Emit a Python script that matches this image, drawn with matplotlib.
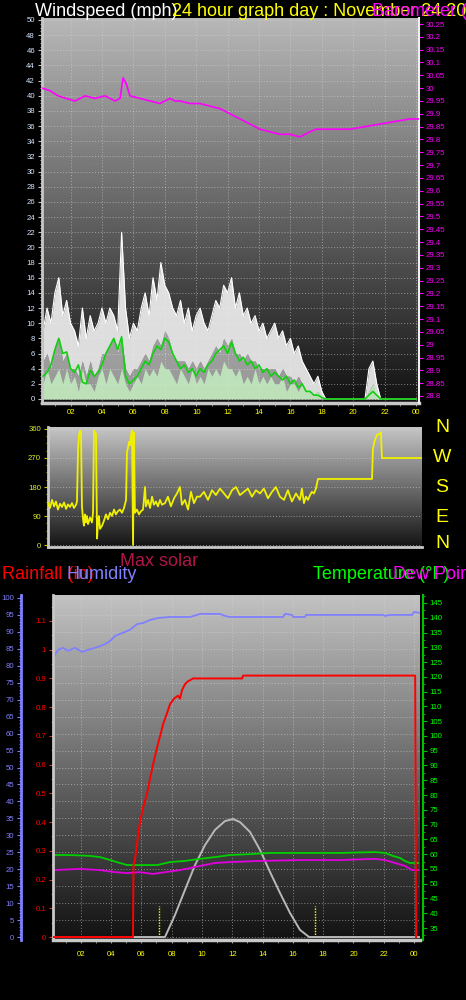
import numpy as np
import matplotlib
matplotlib.use("Agg")
import matplotlib.pyplot as plt
from matplotlib.ticker import MultipleLocator, FixedLocator, FuncFormatter

plt.rcParams['font.family'] = ['Liberation Sans', 'DejaVu Sans']

# ---------------- data ----------------
# top panel: wind (0.25 h steps from 0.25 to 24.0)
wind_t = np.arange(1, 97) * 0.25
wind_gust = [9, 12, 10, 14, 16, 11, 13, 10, 9, 7, 12, 8, 11, 9, 10, 12,
             10, 12, 11, 9, 22, 12, 8, 10, 9, 12, 14, 11, 16, 13, 18, 15,
             14, 12, 11, 13, 10, 12, 9, 11, 12, 10, 9, 11, 13, 12, 15, 14,
             16, 12, 14, 11, 12, 10, 11, 9, 10, 8, 9, 10, 8, 9, 7, 8,
             6, 7, 5, 4, 3, 2, 3, 1, 0, 0, 0, 0, 0, 0, 0, 0,
             0, 0, 0, 4, 5, 2, 0, 0, 0, 0, 0, 0, 0, 0, 0, 0]
wind_lull = [5, 6, 4, 7, 8, 5, 6, 4, 4, 3, 5, 3, 5, 3, 4, 6,
             6, 7, 8, 6, 8, 4, 3, 4, 4, 5, 6, 5, 7, 8, 7, 9,
             8, 6, 5, 5, 5, 4, 5, 4, 5, 4, 5, 6, 7, 6, 8, 7,
             8, 6, 6, 5, 6, 5, 5, 4, 4, 4, 4, 4, 3, 4, 3, 3,
             2, 3, 2, 1, 1, 0.5, 1, 0, 0, 0, 0, 0, 0, 0, 0, 0,
             0, 0, 0, 1, 2, 0, 0, 0, 0, 0, 0, 0, 0, 0, 0, 0]
wind_speed = [2, 4, 2, 3, 4, 2, 4, 2, 3, 1, 4, 2, 2, 1, 3, 4,
              2, 4, 3, 2, 4, 2, 1, 2, 3, 2, 4, 3, 4, 3, 5, 4,
              4, 3, 2, 4, 3, 2, 4, 2, 3, 2, 4, 3, 4, 3, 5, 4,
              4, 3, 4, 2, 3, 2, 4, 2, 3, 2, 3, 2, 2, 3, 1, 2,
              2, 1, 2, 1, 1, 0.5, 1, 0, 0, 0, 0, 0, 0, 0, 0, 0,
              0, 0, 0, 1, 2, 0.5, 0, 0, 0, 0, 0, 0, 0, 0, 0, 0]
wind_avg = [3, 3.5, 4.5, 6.5, 8, 6, 6.2, 4, 3.5, 4.5, 2.2, 2, 3.8, 3, 3.5, 4.5,
            6, 7, 8, 6.5, 8.2, 3, 2, 2.5, 3, 4, 5, 4.5, 6, 7, 6.5, 8,
            7.5, 6, 5, 4, 4.5, 3.5, 4, 3, 4, 3.5, 4.5, 5, 6, 6.5, 7, 6,
            7.5, 6, 5, 5.5, 4.5, 5, 4, 4.5, 3.5, 4, 3, 3.5, 3, 2.5, 3, 2,
            2.5, 1.5, 2, 1, 1, 0.5, 0.5, 0.2, 0, 0, 0, 0, 0, 0, 0, 0,
            0, 0, 0, 0.5, 1, 0.5, 0, 0, 0, 0, 0, 0, 0, 0, 0, 0]

press_t = [0.18, 0.69, 1.20, 1.71, 2.28, 2.92, 3.55, 4.19, 4.83, 5.15, 5.34, 5.53,
           5.78, 6.42, 7.06, 7.69, 8.33, 8.65, 8.97, 9.61, 10.24, 10.88, 11.52,
           12.15, 12.79, 13.43, 14.06, 14.70, 15.34, 15.97, 16.61, 17.25, 17.63,
           18.01, 18.84, 19.80, 20.75, 21.71, 22.66, 23.62, 24.19]
press_v = [30.00, 29.99, 29.97, 29.96, 29.95, 29.97, 29.96, 29.97, 29.95, 29.96,
           30.04, 30.02, 29.97, 29.96, 29.95, 29.94, 29.96, 29.95, 29.95, 29.94,
           29.94, 29.93, 29.92, 29.90, 29.88, 29.86, 29.84, 29.83, 29.82, 29.82,
           29.81, 29.83, 29.84, 29.84, 29.84, 29.84, 29.85, 29.86, 29.87, 29.88, 29.88]

# middle panel: wind direction
dir_t = [0.18, 0.31, 0.44, 0.57, 0.69, 0.82, 0.95, 1.08, 1.21, 1.34, 1.46, 1.59, 1.72,
         1.85, 1.98, 2.04, 2.11, 2.17, 2.23, 2.30, 2.36, 2.43, 2.49, 2.55, 2.62, 2.68,
         2.75, 2.88, 3.00, 3.07, 3.13, 3.20, 3.26, 3.33, 3.39, 3.45, 3.52, 3.65, 3.77,
         3.90, 4.03, 4.16, 4.29, 4.42, 4.54, 4.67, 4.80, 4.93, 5.06, 5.19, 5.25, 5.31,
         5.38, 5.44, 5.51, 5.57, 5.64, 5.70, 5.76, 5.89, 6.02, 6.15, 6.28, 6.41, 6.47,
         6.60, 6.73, 6.86, 6.98, 7.11, 7.24, 7.37, 7.50, 7.69, 7.88, 8.07, 8.27, 8.46,
         8.65, 8.78, 8.97, 9.17, 9.36, 9.55, 9.74, 9.94, 10.19, 10.45, 10.71, 10.96,
         11.22, 11.48, 11.73, 11.99, 12.25, 12.50, 12.76, 13.02, 13.27, 13.53, 13.79,
         14.04, 14.30, 14.56, 14.81, 15.07, 15.33, 15.58, 15.84, 16.10, 16.35, 16.48,
         16.61, 16.74, 16.87, 17.00, 17.12, 17.25, 17.38, 17.51, 20.98, 21.04, 21.17,
         21.30, 21.49, 21.55, 21.62, 24.19]
dir_v = [130, 115, 140, 120, 135, 110, 128, 118, 132, 112, 126, 118, 130,
         115, 125, 135, 300, 340, 355, 350, 120, 80, 60, 95, 70, 90,
         65, 85, 70, 100, 355, 350, 345, 20, 70, 90, 50, 60, 75,
         95, 80, 100, 90, 110, 95, 105, 110, 100, 115, 140, 290, 300,
         320, 310, 340, 355, 0, 350, 100, 110, 95, 105, 110, 180, 120,
         140, 115, 150, 125, 135, 120, 140, 125, 130, 150, 120, 145, 160,
         180, 125, 140, 110, 165, 130, 150, 150, 165, 140, 170, 155,
         175, 160, 145, 170, 180, 155, 165, 175, 150, 170, 160,
         175, 145, 165, 180, 150, 140, 170, 135, 160, 140, 175,
         130, 150, 140, 155, 165, 160, 175, 205, 205, 300, 326,
         342, 345, 350, 270, 270]

# bottom panel
hum_t = [0.17, 0.50, 0.83, 1.16, 1.62, 2.09, 2.48, 2.94, 3.27, 3.60, 3.94, 4.26, 4.59,
         4.92, 5.25, 5.72, 6.11, 6.57, 7.10, 7.89, 9.21, 9.68, 9.87, 11.19, 11.52, 11.85,
         13.83, 15.35, 15.48, 15.95, 16.02, 16.80, 16.87, 21.95, 22.08, 22.40, 23.87,
         24.00, 24.39]
hum_v = [82.3, 84.7, 85.3, 84.4, 85.3, 84.1, 84.7, 85.3, 85.8, 86.4, 87.3, 88.8, 89.4,
         90.0, 90.6, 92.3, 92.6, 93.5, 94.1, 94.4, 94.4, 95.0, 95.3, 95.3, 94.7, 94.4,
         94.4, 94.4, 95.3, 95.0, 94.4, 94.4, 95.0, 95.0, 94.7, 95.0, 95.0,
         95.9, 95.6]

rain_t = [0.17, 5.45, 5.48, 5.58, 5.72, 5.91, 6.11, 6.38, 6.57, 6.77, 7.04, 7.24, 7.43,
          7.70, 7.89, 8.16, 8.42, 8.55, 8.69, 8.88, 9.08, 9.41, 12.65, 12.72, 24.07, 24.13]
rain_v = [0, 0, 0.25, 0.27, 0.33, 0.40, 0.45, 0.50, 0.55, 0.60, 0.66, 0.70, 0.74,
          0.78, 0.81, 0.83, 0.84, 0.83, 0.86, 0.88, 0.89, 0.90, 0.90, 0.91, 0.91, 0.0]

temp_t = [0.17, 1.29, 2.61, 3.27, 3.94, 4.59, 5.06, 5.91, 7.04, 7.89, 8.88, 9.87, 10.86,
          11.85, 13.17, 14.49, 16.47, 19.12, 21.43, 22.08, 22.61, 23.07, 23.40, 23.73, 24.26]
temp_v = [59.7, 59.7, 59.4, 59.0, 58.0, 57.0, 56.3, 56.3, 56.3, 57.3, 57.7, 58.4, 59.0,
          59.7, 60.0, 60.4, 60.4, 60.4, 60.7, 60.4, 59.4, 58.7, 57.7, 57.0, 57.0]

dew_t = [0.17, 1.95, 3.27, 4.26, 5.06, 5.91, 6.77, 7.56, 8.55, 9.87, 10.86, 11.85, 13.83,
         16.47, 19.12, 21.43, 22.08, 22.74, 23.40, 23.87, 24.26]
dew_v = [54.6, 55.0, 54.6, 53.9, 53.6, 53.9, 53.3, 53.9, 54.6, 56.0, 57.0, 57.3, 57.7,
         58.0, 58.0, 58.4, 58.0, 57.0, 56.0, 54.6, 54.6]

solar_t = [0.17, 7.56, 8.22, 8.88, 9.54, 10.20, 10.86, 11.52, 12.05, 12.51, 13.17, 13.83,
           14.49, 15.15, 15.81, 16.47, 17.07, 24.39]
solar_v = [0, 0, 6.5, 13.9, 21.2, 27.1, 31.6, 34.2, 34.8, 33.9, 31.0, 25.7,
           19.2, 13.0, 7.1, 2.1, 0, 0]

sunrise, sunset = 7.17, 17.47

hour_ticks = [2, 4, 6, 8, 10, 12, 14, 16, 18, 20, 22, 24]
hour_labels = ['02', '04', '06', '08', '10', '12', '14', '16', '18', '20', '22', '00']

# ---------------- figure ----------------
W, H = 466, 1000
fig = plt.figure(figsize=(W / 100, H / 100), dpi=100, facecolor='black')


def box(l, t, r, b):
    return [l / W, 1 - b / H, (r - l) / W, (b - t) / H]


def gradient(ax, top, bottom):
    arr = np.linspace(top, bottom, 256).reshape(-1, 1)
    ax.imshow(arr, extent=[0, 1, 0, 1], transform=ax.transAxes, cmap='gray',
              vmin=0, vmax=1, aspect='auto', zorder=0, interpolation='bilinear')


def grid_style(ax, axis='both'):
    ax.grid(True, axis=axis, color='#d8d8d8', linestyle=(0, (1, 2)), linewidth=0.7, alpha=0.55)
    ax.set_axisbelow(True)


def strip(v, pos=None):
    return f'{v:.2f}'.rstrip('0').rstrip('.')


LS = 5.6
XL = (0.18, 24.19)

# ===== top panel =====
ax1 = fig.add_axes(box(42, 18, 419, 403))
ax1.set_facecolor('none')
ax1.set_xlim(*XL)
ax1.set_ylim(-0.53, 50.26)
gradient(ax1, 0.72, 0.07)
ax1.fill_between(wind_t, 0, wind_lull, color='#f0f0f0', alpha=0.6, lw=0, zorder=2)
ax1.fill_between(wind_t, wind_lull, wind_gust, color='#f2f2f2', alpha=0.9, lw=0, zorder=2)
ax1.plot(wind_t, wind_gust, color='#ffffff', lw=0.8, zorder=2)
ax1.fill_between(wind_t, 0, wind_speed, color='#c4eec0', alpha=0.85, lw=0, zorder=3)
ax1.plot(wind_t, wind_avg, color='#10d010', lw=1.2, zorder=4)
ax1.yaxis.set_major_locator(MultipleLocator(2))
ax1.yaxis.set_minor_locator(MultipleLocator(0.5))
ax1.xaxis.set_major_locator(FixedLocator(hour_ticks))
ax1.xaxis.set_minor_locator(MultipleLocator(1))
ax1.set_xticklabels(hour_labels)
ax1.tick_params(axis='y', which='major', colors='#c0c0c0', labelcolor='#d4e6ff', labelsize=LS, length=3, pad=2)
ax1.tick_params(axis='y', which='minor', colors='#c0c0c0', length=1.5)
ax1.tick_params(axis='x', which='both', colors='#a0a0a0', labelcolor='#ffff00', labelsize=LS, length=2, pad=2)
grid_style(ax1)
for s in ['top', 'right']:
    ax1.spines[s].set_visible(False)
ax1.spines['left'].set_color('#c8c8c8'); ax1.spines['left'].set_linewidth(2)
ax1.spines['bottom'].set_color('#c8c8c8'); ax1.spines['bottom'].set_linewidth(2.5)

ax1p = ax1.twinx()
ax1p.plot(press_t, press_v, color='#ff00ff', lw=1.2, zorder=3)
ax1p.yaxis.set_major_locator(MultipleLocator(0.05))
ax1p.yaxis.set_major_formatter(FuncFormatter(strip))
ax1p.set_ylim(28.7727, 30.2734)
ax1p.tick_params(axis='y', colors='#ff00ff', labelcolor='#ff00ff', labelsize=LS, length=3, pad=2)
for s in ['top', 'left', 'bottom']:
    ax1p.spines[s].set_visible(False)
ax1p.spines['right'].set_color('#f0f0f0'); ax1p.spines['right'].set_linewidth(1.5)

# ===== middle panel =====
ax2 = fig.add_axes(box(48, 427, 422, 547))
ax2.set_facecolor('none')
ax2.set_xlim(*XL)
ax2.set_ylim(-6.2, 366.2)
gradient(ax2, 0.78, 0.08)
ax2.plot(dir_t, dir_v, color='#f0f000', lw=1.3, zorder=3)
ax2.yaxis.set_major_locator(FixedLocator([0, 90, 180, 270, 360]))
ax2.yaxis.set_minor_locator(MultipleLocator(22.5))
ax2.tick_params(axis='y', which='major', colors='#c8c800', labelcolor='#d8f030', labelsize=LS, length=3, pad=2)
ax2.tick_params(axis='y', which='minor', colors='#c8c800', length=1.5)
ax2.set_xticks([])
grid_style(ax2, 'y')
for s in ['top', 'right']:
    ax2.spines[s].set_visible(False)
ax2.spines['left'].set_color('#c8c8c8'); ax2.spines['left'].set_linewidth(2)
ax2.spines['bottom'].set_color('#c8c8c8'); ax2.spines['bottom'].set_linewidth(2)

# ===== bottom panel =====
XB = (0.17, 24.39)
ax3 = fig.add_axes(box(53, 595, 420, 940))
ax3.set_facecolor('none')
ax3.set_xlim(*XB)
ax3.set_ylim(-0.88, 100.88)
gradient(ax3, 0.76, 0.07)
ax3.plot(hum_t, hum_v, color='#8080ff', lw=1.3, zorder=3)
ax3.yaxis.set_major_locator(MultipleLocator(5))
ax3.yaxis.set_minor_locator(MultipleLocator(1))
ax3.xaxis.set_major_locator(FixedLocator(hour_ticks))
ax3.xaxis.set_minor_locator(MultipleLocator(1))
ax3.set_xticklabels(hour_labels)
ax3.spines['left'].set_position(('outward', 23))
ax3.spines['left'].set_color('#8080ff'); ax3.spines['left'].set_linewidth(2)
ax3.tick_params(axis='y', which='major', colors='#8080ff', labelcolor='#8080ff', labelsize=LS, length=3, pad=2)
ax3.tick_params(axis='y', which='minor', colors='#8080ff', length=1.5)
ax3.tick_params(axis='x', which='both', colors='#a0a0a0', labelcolor='#ffff00', labelsize=LS, length=2, pad=6)
grid_style(ax3)
for s in ['top', 'right']:
    ax3.spines[s].set_visible(False)
ax3.spines['bottom'].set_color('#c8c8c8'); ax3.spines['bottom'].set_linewidth(2.5)
ax3.vlines([sunrise, sunset], -0.88, 9.1, colors='#ffff00', linestyles=(0, (1, 1)), lw=1.0, zorder=2)

ax3s = ax3.twinx()
ax3s.set_ylim(-0.88, 100.88)
ax3s.plot(solar_t, solar_v, color='#b8b8b8', lw=1.4, zorder=2)
ax3s.set_yticks([])
for s in ax3s.spines.values():
    s.set_visible(False)

ax3t = ax3.twinx()
ax3t.plot(temp_t, temp_v, color='#00d000', lw=1.3, zorder=3)
ax3t.plot(dew_t, dew_v, color='#e000e0', lw=1.3, zorder=3)
ax3t.yaxis.set_major_locator(MultipleLocator(5))
ax3t.yaxis.set_minor_locator(MultipleLocator(2.5))
ax3t.set_ylim(30.94, 147.7)
ax3t.tick_params(axis='y', which='major', colors='#00c000', labelcolor='#00ff00', labelsize=LS, length=3, pad=2)
ax3t.tick_params(axis='y', which='minor', colors='#00c000', length=1.5)
for s in ['top', 'left', 'bottom']:
    ax3t.spines[s].set_visible(False)
ax3t.spines['right'].set_position(('outward', 2))
ax3t.spines['right'].set_color('#00c000'); ax3t.spines['right'].set_linewidth(1.5)

ax3r = ax3.twinx()
ax3r.plot(rain_t, rain_v, color='#ff0000', lw=1.4, zorder=4)
ax3r.yaxis.tick_left()
ax3r.yaxis.set_major_locator(MultipleLocator(0.1))
ax3r.yaxis.set_minor_locator(MultipleLocator(0.05))
ax3r.yaxis.set_major_formatter(FuncFormatter(strip))
ax3r.set_ylim(-0.0104, 1.1905)
ax3r.tick_params(axis='y', which='major', colors='#e03030', labelcolor='#ff0000', labelsize=LS, length=3, pad=2)
ax3r.tick_params(axis='y', which='minor', colors='#e03030', length=1.5)
for s in ['top', 'right', 'bottom']:
    ax3r.spines[s].set_visible(False)
ax3r.spines['left'].set_visible(True)
ax3r.spines['left'].set_color('#c8c8c8'); ax3r.spines['left'].set_linewidth(2)

# ---------------- texts ----------------
def ftext(x, y, s, color, size=13, ha='left', va='baseline'):
    fig.text(x / W, 1 - y / H, s, color=color, fontsize=size, ha=ha, va=va)

ftext(35, 16, 'Windspeed (mph)', 'white')
ftext(172, 16, '24 hour graph day : November 24 2013', '#ffff00')
ftext(372, 16, 'Barometer (in)', '#ff00ff')

for letter, yy in zip(['N', 'W', 'S', 'E', 'N'], [428, 458, 488, 517, 543]):
    ftext(442, yy, letter, '#ffff00', size=14, ha='center', va='center')

ftext(120, 566, 'Max solar', '#b0154a')
ftext(2, 579, 'Rainfall (in)', '#ff0000')
ftext(67, 579, 'Humidity', '#8080ff')
ftext(313, 579, 'Temperature (°F)', '#00ff00')
ftext(393, 579, 'Dew Point (°F)', '#ff00ff')

fig.savefig('out.png', dpi=100, facecolor='black')
